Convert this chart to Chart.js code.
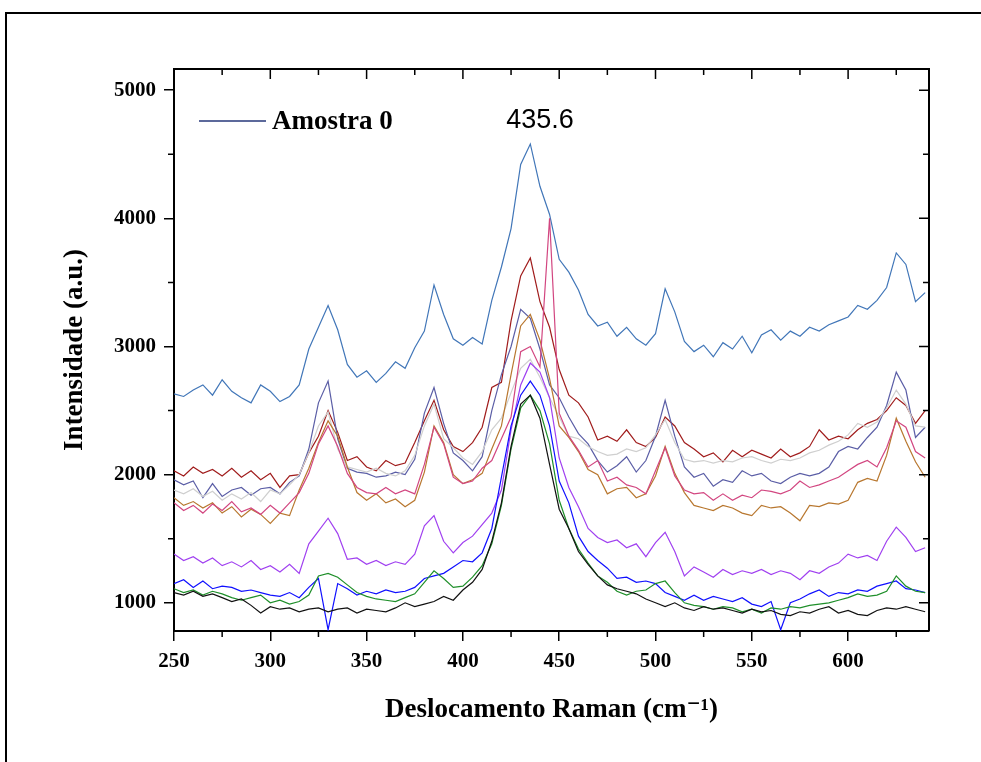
<!DOCTYPE html>
<html>
<head>
<meta charset="utf-8">
<script src="https://cdn.jsdelivr.net/npm/chart.js@4.4.1/dist/chart.umd.min.js"></script>
<style>
  html, body { margin: 0; padding: 0; background: #ffffff; }
  #wrap { width: 981px; height: 762px; position: relative; }
</style>
</head>
<body>
<div id="wrap"><canvas id="c" width="981" height="762"></canvas></div>
<script>
// Raman shift (cm-1)
const ramanShift = [250,255,260,265,270,275,280,285,290,295,300,305,310,315,320,325,330,335,340,345,350,355,360,365,370,375,380,385,390,395,400,405,410,415,420,425,430,435,440,445,450,455,460,465,470,475,480,485,490,495,500,505,510,515,520,525,530,535,540,545,550,555,560,565,570,575,580,585,590,595,600,605,610,615,620,625,630,635,640];

const amostra0 = [1080,1060,1090,1050,1070,1040,1010,1030,980,920,970,950,960,930,950,960,930,950,960,920,950,940,930,960,1000,970,990,1010,1050,1020,1100,1160,1260,1480,1780,2220,2550,2620,2440,2080,1730,1580,1400,1300,1210,1140,1110,1090,1070,1030,1000,970,1000,960,940,970,950,960,940,920,950,930,940,910,900,930,920,950,970,920,940,910,900,940,960,950,970,950,930];
const serieVerde = [1110,1080,1100,1060,1090,1070,1040,1020,1040,1060,1000,1020,990,1010,1060,1210,1230,1200,1140,1080,1050,1030,1020,1010,1040,1070,1160,1250,1190,1120,1130,1200,1290,1460,1760,2200,2520,2620,2500,2240,1800,1580,1420,1310,1210,1160,1090,1060,1090,1100,1150,1170,1080,1000,980,970,950,970,960,930,950,920,960,950,970,960,980,990,1000,1020,1040,1070,1050,1060,1090,1210,1130,1090,1080];
const serieAzul = [1150,1180,1120,1170,1110,1130,1120,1090,1100,1080,1060,1050,1080,1040,1120,1190,790,1150,1110,1060,1090,1070,1100,1080,1090,1120,1190,1210,1230,1280,1330,1320,1390,1580,1980,2380,2620,2730,2620,2380,1950,1780,1520,1400,1330,1270,1190,1200,1160,1170,1150,1080,1050,1020,1060,1020,1050,1030,1010,1040,990,970,1010,790,1000,1030,1070,1100,1050,1080,1070,1100,1090,1130,1150,1170,1110,1100,1080];
const serieVioleta = [1380,1330,1360,1310,1350,1290,1320,1280,1330,1260,1290,1240,1300,1230,1460,1560,1660,1540,1340,1350,1300,1330,1290,1320,1300,1380,1600,1680,1480,1390,1470,1520,1610,1700,1880,2350,2700,2870,2800,2600,2130,1900,1750,1580,1510,1470,1490,1430,1460,1360,1470,1550,1400,1210,1280,1240,1200,1260,1220,1250,1230,1260,1220,1250,1230,1180,1250,1230,1280,1310,1380,1350,1370,1330,1480,1590,1510,1400,1430];
const serieRosa = [1780,1720,1760,1700,1770,1720,1790,1710,1740,1690,1760,1700,1780,1860,2010,2240,2380,2220,2010,1900,1860,1850,1900,1850,1880,1850,2080,2370,2240,1980,1930,1950,2050,2110,2280,2450,2960,3000,2840,4000,2480,2300,2190,2060,2110,1950,1980,1920,1900,1850,2030,2210,1990,1880,1850,1860,1800,1850,1800,1840,1820,1880,1870,1850,1880,1950,1900,1920,1950,1980,2030,2080,2110,2060,2210,2420,2370,2180,2130];
const serieMarrom = [1820,1760,1790,1740,1780,1700,1750,1670,1730,1690,1620,1700,1680,1880,2050,2250,2420,2300,2060,1860,1800,1850,1780,1810,1750,1800,2020,2380,2250,2000,1930,1960,2010,2200,2380,2780,3160,3250,3050,2750,2380,2290,2180,2040,2000,1850,1890,1900,1820,1850,1990,2220,2010,1860,1760,1740,1720,1760,1740,1700,1680,1760,1740,1750,1700,1640,1760,1750,1780,1770,1800,1940,1970,1950,2150,2440,2260,2100,1980];
const serieCinza = [1880,1850,1890,1830,1870,1800,1850,1810,1860,1790,1880,1850,1920,2000,2170,2380,2490,2200,2060,2040,2020,2050,2010,1990,2030,2150,2380,2550,2280,2210,2130,2080,2180,2350,2440,2640,2830,2900,2760,2600,2450,2300,2280,2220,2180,2150,2160,2200,2180,2210,2310,2430,2250,2120,2100,2110,2090,2110,2100,2130,2140,2110,2090,2120,2110,2130,2170,2190,2230,2260,2310,2400,2370,2410,2520,2660,2550,2380,2370];
const serieArdosia = [1960,1920,1950,1820,1930,1830,1880,1900,1840,1890,1900,1850,1940,1990,2200,2560,2730,2280,2050,2020,2010,1980,1990,2020,2000,2120,2480,2680,2400,2170,2110,2030,2140,2500,2780,3000,3290,3220,2980,2700,2600,2450,2320,2240,2110,2020,2070,2140,2020,2110,2300,2580,2300,2060,1980,2010,1910,1960,1940,2030,1990,2010,1950,1930,1980,2010,1990,2010,2060,2180,2220,2200,2290,2370,2540,2800,2660,2290,2370];
const serieVinho = [2030,1990,2060,2010,2040,1990,2050,1980,2030,1960,2010,1900,1990,2000,2170,2300,2500,2330,2110,2140,2060,2030,2110,2070,2090,2250,2420,2580,2350,2220,2180,2250,2370,2680,2720,3200,3550,3690,3350,3150,2820,2620,2560,2450,2270,2300,2260,2350,2250,2220,2290,2450,2380,2250,2200,2140,2170,2100,2190,2140,2190,2160,2130,2200,2140,2170,2220,2350,2270,2300,2280,2350,2400,2430,2500,2600,2540,2400,2500];
const serieAco = [2630,2610,2660,2700,2620,2740,2650,2600,2560,2700,2650,2570,2610,2700,2980,3150,3320,3130,2860,2760,2810,2720,2790,2880,2830,2990,3120,3480,3250,3060,3010,3070,3020,3360,3620,3920,4420,4580,4250,4030,3680,3580,3440,3250,3160,3190,3080,3150,3060,3010,3100,3450,3270,3040,2960,3010,2920,3030,2980,3080,2950,3090,3130,3050,3120,3080,3150,3120,3170,3200,3230,3320,3290,3360,3460,3730,3640,3350,3420];

const seriesNames = ['Amostra 0','Amostra 1','Amostra 2','Amostra 3','Amostra 4','Amostra 5','Amostra 6','Amostra 7','Amostra 8','Amostra 9'];
const seriesValues = [amostra0, serieVerde, serieAzul, serieVioleta, serieRosa, serieMarrom, serieCinza, serieArdosia, serieVinho, serieAco];
const seriesColors = ['#111111','#1f8f2a','#1010ff','#a040f0','#d24680','#b8772f','#cfcfcf','#5b5ea6','#a01c1c','#4176b8'];

const xTickValues = [250,300,350,400,450,500,550,600];
const xMinorValues = [275,325,375,425,475,525,575,625];
const yTickValues = [1000,2000,3000,4000,5000];
const yMinorValues = [1500,2500,3500,4500];
const peakLabel = '435.6';
const legendLabel = 'Amostra 0';
const legendColor = '#26377a';

const serif = "'Liberation Serif', 'Times New Roman', 'DejaVu Serif', serif";

const datasets = seriesValues.map((vals, i) => ({
  label: seriesNames[i],
  data: vals.map((v, j) => ({x: ramanShift[j], y: v})),
  borderColor: seriesColors[i],
  backgroundColor: seriesColors[i],
  borderWidth: 1.2,
  pointRadius: 0,
  tension: 0,
  fill: false
}));

const decor = {
  id: 'decor',
  beforeDraw(chart) {
    const ctx = chart.ctx;
    ctx.save();
    ctx.fillStyle = '#ffffff';
    ctx.fillRect(0, 0, chart.width, chart.height);
    ctx.strokeStyle = '#000';
    ctx.lineWidth = 2;
    ctx.beginPath();
    ctx.moveTo(6, chart.height);
    ctx.lineTo(6, 13);
    ctx.lineTo(chart.width, 13);
    ctx.stroke();
    ctx.restore();
  },
  afterDraw(chart) {
    const ctx = chart.ctx;
    const a = chart.chartArea;
    const xs = chart.scales.x, ys = chart.scales.y;
    ctx.save();
    ctx.strokeStyle = '#000';
    ctx.lineWidth = 2;
    ctx.beginPath();
    ctx.moveTo(a.left, a.top); ctx.lineTo(a.right, a.top); ctx.lineTo(a.right, a.bottom);
    ctx.stroke();
    ctx.lineWidth = 1.5;
    ctx.beginPath();
    xTickValues.forEach(v => { const p = xs.getPixelForValue(v); ctx.moveTo(p, a.top); ctx.lineTo(p, a.top + 10); });
    xMinorValues.forEach(v => {
      const p = xs.getPixelForValue(v);
      ctx.moveTo(p, a.top); ctx.lineTo(p, a.top + 6);
      ctx.moveTo(p, a.bottom); ctx.lineTo(p, a.bottom + 6);
    });
    yTickValues.forEach(v => { const p = ys.getPixelForValue(v); ctx.moveTo(a.right, p); ctx.lineTo(a.right - 10, p); });
    yMinorValues.forEach(v => {
      const p = ys.getPixelForValue(v);
      ctx.moveTo(a.right, p); ctx.lineTo(a.right - 6, p);
      ctx.moveTo(a.left, p); ctx.lineTo(a.left - 6, p);
    });
    ctx.stroke();
    // legend
    ctx.strokeStyle = legendColor;
    ctx.lineWidth = 1.5;
    ctx.beginPath();
    ctx.moveTo(199, 121); ctx.lineTo(266, 121);
    ctx.stroke();
    ctx.fillStyle = '#000';
    ctx.font = "bold 27px " + serif;
    ctx.textAlign = 'left';
    ctx.textBaseline = 'middle';
    ctx.fillText(legendLabel, 272, 122);
    // peak annotation
    ctx.font = "27px 'Liberation Sans', Arial, sans-serif";
    ctx.textAlign = 'center';
    ctx.fillText(peakLabel, 540, 121);
    ctx.restore();
  }
};

new Chart(document.getElementById('c'), {
  type: 'line',
  data: { datasets },
  plugins: [decor],
  options: {
    responsive: false,
    animation: false,
    devicePixelRatio: 1,
    layout: { padding: { left: 59, right: 52, top: 69, bottom: 36 } },
    plugins: { legend: { display: false }, tooltip: { enabled: false } },
    scales: {
      x: {
        type: 'linear',
        min: 250, max: 642,
        afterFit(s) { s.height = 95; },
        afterBuildTicks(s) { s.ticks = xTickValues.map(v => ({value: v})); },
        grid: { drawOnChartArea: false, drawTicks: true, tickLength: 10, color: '#000', lineWidth: 1.5 },
        border: { display: true, color: '#000', width: 2 },
        ticks: { color: '#000', padding: 8, maxRotation: 0, callback: v => String(v), font: { family: serif, weight: 'bold', size: 21 } },
        title: { display: true, text: 'Deslocamento Raman (cm⁻¹)', color: '#000', padding: { top: 0, bottom: 0 }, font: { family: serif, weight: 'bold', size: 27 } }
      },
      y: {
        type: 'linear',
        min: 780, max: 5165,
        afterFit(s) { s.width = 115; },
        afterBuildTicks(s) { s.ticks = yTickValues.map(v => ({value: v})); },
        grid: { drawOnChartArea: false, drawTicks: true, tickLength: 10, color: '#000', lineWidth: 1.5 },
        border: { display: true, color: '#000', width: 2 },
        ticks: { color: '#000', padding: 8, callback: v => String(v), font: { family: serif, weight: 'bold', size: 21 } },
        title: { display: true, text: 'Intensidade (a.u.)', color: '#000', padding: { top: 0, bottom: 0 }, font: { family: serif, weight: 'bold', size: 27 } }
      }
    }
  }
});
</script>
</body>
</html>
